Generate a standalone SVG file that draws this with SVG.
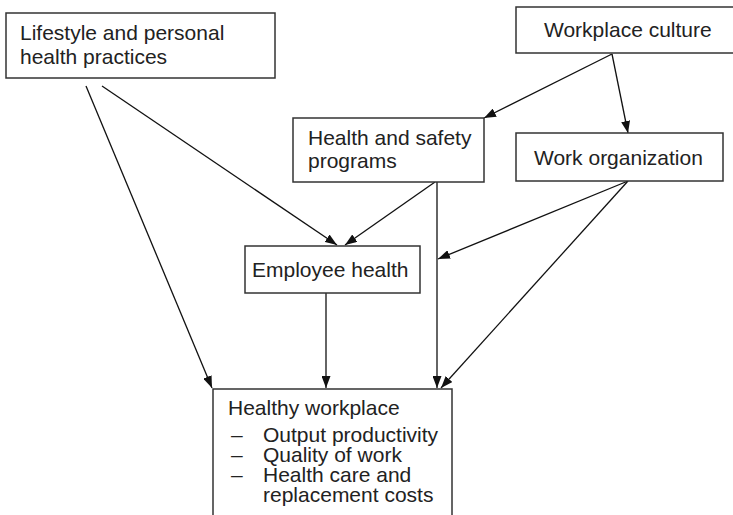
<svg xmlns="http://www.w3.org/2000/svg" width="733" height="515" viewBox="0 0 733 515">
<style>
.box{fill:#fff;stroke:#333;stroke-width:1.5}
.t{font-family:"Liberation Sans",Arial,sans-serif;font-size:21px;fill:#222}
.c{stroke:#111;stroke-width:1.3;fill:none;marker-end:url(#ah)}
</style>
<defs>
<marker id="ah" markerUnits="userSpaceOnUse" markerWidth="13" markerHeight="9" refX="12" refY="4.5" orient="auto">
<path d="M0,0 L12,4.5 L0,9 z" fill="#111"/>
</marker>
</defs>
<rect width="733" height="515" fill="#fff"/>
<g id="connectors">
<line class="c" x1="86" y1="86" x2="212" y2="388"/>
<line class="c" x1="102" y1="86" x2="337" y2="245"/>
<line class="c" x1="612" y1="54" x2="484" y2="118"/>
<line class="c" x1="612" y1="54" x2="628" y2="133"/>
<line class="c" x1="435" y1="182" x2="345" y2="245"/>
<line class="c" x1="437" y1="182" x2="437" y2="388"/>
<line class="c" x1="628" y1="181" x2="438" y2="259"/>
<line class="c" x1="628" y1="181" x2="441" y2="388"/>
<line class="c" x1="326" y1="293" x2="326" y2="388"/>
</g>
<g id="lifestyle">
<rect class="box" x="6" y="13" width="269" height="65"/>
<text class="t" x="20" y="40">Lifestyle and personal</text>
<text class="t" x="20" y="64">health practices</text>
</g>
<g id="workplace-culture">
<rect class="box" x="516" y="7" width="220" height="46"/>
<text class="t" x="544" y="37">Workplace culture</text>
</g>
<g id="health-safety">
<rect class="box" x="293" y="118" width="191" height="64"/>
<text class="t" x="308" y="145">Health and safety</text>
<text class="t" x="308" y="168">programs</text>
</g>
<g id="work-organization">
<rect class="box" x="516" y="133" width="207" height="48"/>
<text class="t" x="534" y="165">Work organization</text>
</g>
<g id="employee-health">
<rect class="box" x="245" y="246" width="175" height="47"/>
<text class="t" x="252" y="277">Employee health</text>
</g>
<g id="healthy-workplace">
<rect class="box" x="213" y="389" width="239" height="140"/>
<text class="t" x="228" y="415">Healthy workplace</text>
<text class="t" x="231" y="442">–<tspan x="263">Output productivity</tspan></text>
<text class="t" x="231" y="462">–<tspan x="263">Quality of work</tspan></text>
<text class="t" x="231" y="482">–<tspan x="263">Health care and</tspan></text>
<text class="t" x="263" y="502">replacement costs</text>
</g>
</svg>
